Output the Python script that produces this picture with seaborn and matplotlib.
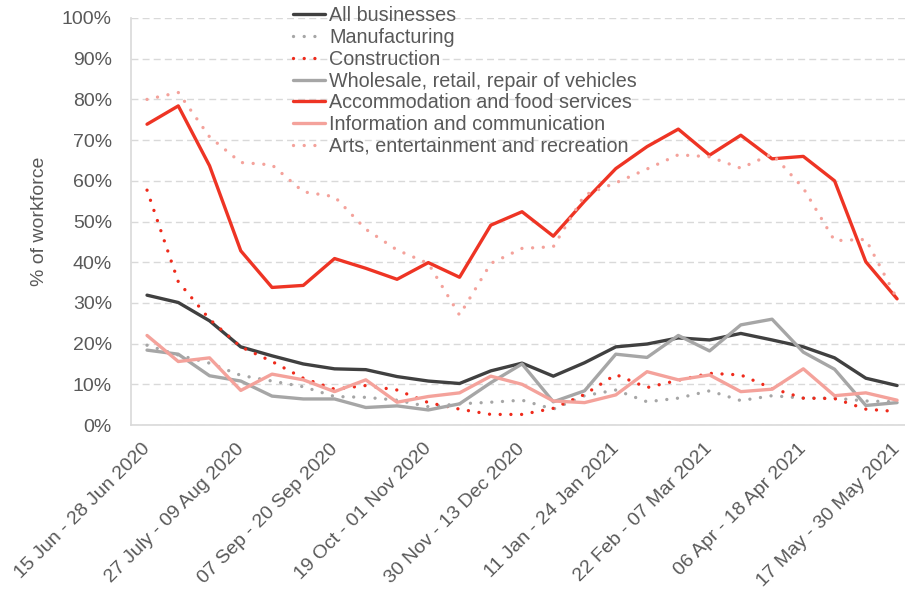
import numpy as np
import pandas as pd
import seaborn as sns
import matplotlib.pyplot as plt
import matplotlib.transforms as mtransforms
from matplotlib.ticker import PercentFormatter

# fortnightly survey periods (only every third one is labelled on the axis)
periods = ['15 Jun - 28 Jun 2020', '29 Jun - 12 Jul 2020', '13 Jul - 26 Jul 2020',
           '27 July - 09 Aug 2020', '10 Aug - 23 Aug 2020', '24 Aug - 06 Sep 2020',
           '07 Sep - 20 Sep 2020', '21 Sep - 04 Oct 2020', '05 Oct - 18 Oct 2020',
           '19 Oct - 01 Nov 2020', '02 Nov - 15 Nov 2020', '16 Nov - 29 Nov 2020',
           '30 Nov - 13 Dec 2020', '14 Dec - 27 Dec 2020', '28 Dec - 10 Jan 2021',
           '11 Jan - 24 Jan 2021', '25 Jan - 07 Feb 2021', '08 Feb - 21 Feb 2021',
           '22 Feb - 07 Mar 2021', '08 Mar - 21 Mar 2021', '22 Mar - 04 Apr 2021',
           '06 Apr - 18 Apr 2021', '19 Apr - 02 May 2021', '03 May - 16 May 2021',
           '17 May - 30 May 2021']

all_businesses = [31.9, 30.1, 25.6, 19.2, 17.0, 15.0, 13.8, 13.6, 11.9, 10.8, 10.2, 13.3, 15.2,
                  12.0, 15.3, 19.2, 19.9, 21.4, 20.9, 22.5, 20.9, 19.2, 16.5, 11.5, 9.7]
manufacturing = [19.6, 17.2, 15.2, 12.2, 10.8, 9.4, 7.0, 6.8, 6.1, 4.5, 5.2, 5.6, 6.1,
                 3.9, 7.2, 8.6, 5.7, 6.6, 8.4, 6.0, 7.2, 6.6, 6.6, 5.9, 5.7]
construction = [57.7, 35.2, 26.0, 19.2, 15.6, 11.5, 8.8, 9.7, 8.6, 5.5, 3.9, 2.6, 2.6,
                4.1, 7.5, 12.4, 9.2, 11.0, 12.7, 12.3, 9.0, 6.6, 6.5, 3.9, 3.3]
wholesale = [18.4, 17.4, 12.1, 10.8, 7.1, 6.4, 6.4, 4.3, 4.7, 3.7, 5.2, 10.4, 15.0,
             5.7, 8.4, 17.4, 16.6, 22.0, 18.2, 24.6, 26.0, 17.9, 13.7, 4.8, 5.5]
accommodation = [73.9, 78.4, 63.7, 42.8, 33.8, 34.3, 40.9, 38.5, 35.8, 39.9, 36.3, 49.1, 52.4,
                 46.4, 55.0, 63.0, 68.4, 72.7, 66.3, 71.2, 65.4, 66.0, 60.0, 40.1, 31.0]
information = [22.0, 15.6, 16.5, 8.5, 12.5, 11.1, 8.2, 11.1, 5.6, 7.0, 7.9, 12.0, 10.0,
               5.9, 5.5, 7.4, 13.1, 11.1, 12.3, 8.2, 8.8, 13.8, 7.2, 7.9, 6.1]
arts = [80.0, 81.7, 70.8, 64.5, 63.9, 57.3, 56.1, 48.1, 43.0, 39.7, 27.0, 39.7, 43.4,
        43.8, 56.5, 59.5, 62.9, 66.4, 65.9, 63.1, 66.6, 58.2, 45.3, 45.6, 31.0]

sectors = ['All businesses', 'Manufacturing', 'Construction',
           'Wholesale, retail, repair of vehicles', 'Accommodation and food services',
           'Information and communication', 'Arts, entertainment and recreation']
series = [all_businesses, manufacturing, construction, wholesale,
          accommodation, information, arts]
colors = ['#404040', '#a6a6a6', '#ee2a1b', '#a6a6a6', '#ee3424', '#f4a29b', '#f4a29b']
dotted = [False, True, True, False, False, False, True]

sns.set_style('white')
plt.rcParams['font.family'] = ['Liberation Sans', 'DejaVu Sans']

fig = plt.figure(figsize=(9.05, 5.96), dpi=100)
ax = fig.add_axes([0.1452, 0.2869, 0.8633, 0.6829])

x = np.arange(len(periods))
for name, vals, c, dot in zip(sectors, series, colors, dotted):
    df = pd.DataFrame({'period': x, 'pct': vals})
    if dot:
        sns.lineplot(data=df, x='period', y='pct', ax=ax, color=c, label=name,
                     linewidth=2.4, linestyle=(0, (0.01, 3.2)), dash_capstyle='round')
    else:
        sns.lineplot(data=df, x='period', y='pct', ax=ax, color=c, label=name,
                     linewidth=2.4)

ax.set_xlim(-0.5, len(periods) - 0.5)
ax.set_ylim(0, 100)
ax.set_yticks(np.arange(0, 101, 10))
ax.yaxis.set_major_formatter(PercentFormatter(decimals=0))
ax.set_xticks(x[::3])
ax.set_xticklabels(periods[::3], rotation=45, ha='right', rotation_mode='anchor')
ax.tick_params(axis='both', colors='#595959', labelsize=14, length=0)
ax.tick_params(axis='x', pad=11)
ax.tick_params(axis='y', pad=14)
# nudge the rotated date labels so their ends sit under the ticks
shift = mtransforms.ScaledTranslation(-4 / 72, 0, fig.dpi_scale_trans)
for lab in ax.get_xticklabels():
    lab.set_transform(lab.get_transform() + shift)
ax.set_xlabel('')
ax.set_ylabel('% of workforce', fontsize=14, color='#595959', labelpad=10)

ax.grid(axis='y', color='#d9d9d9', linestyle=(0, (5, 3)), linewidth=1)
ax.set_axisbelow(True)
for side in ['top', 'right']:
    ax.spines[side].set_visible(False)
for side in ['left', 'bottom']:
    ax.spines[side].set_color('#d9d9d9')
    ax.spines[side].set_linewidth(1.2)

leg = ax.legend(loc='upper left', bbox_to_anchor=(0.197, 1.048), frameon=False,
                fontsize=14.2, labelspacing=0.14, handlelength=1.63, handletextpad=0.2,
                borderaxespad=0)
for t in leg.get_texts():
    t.set_color('#595959')

plt.savefig('out.png', dpi=100)
